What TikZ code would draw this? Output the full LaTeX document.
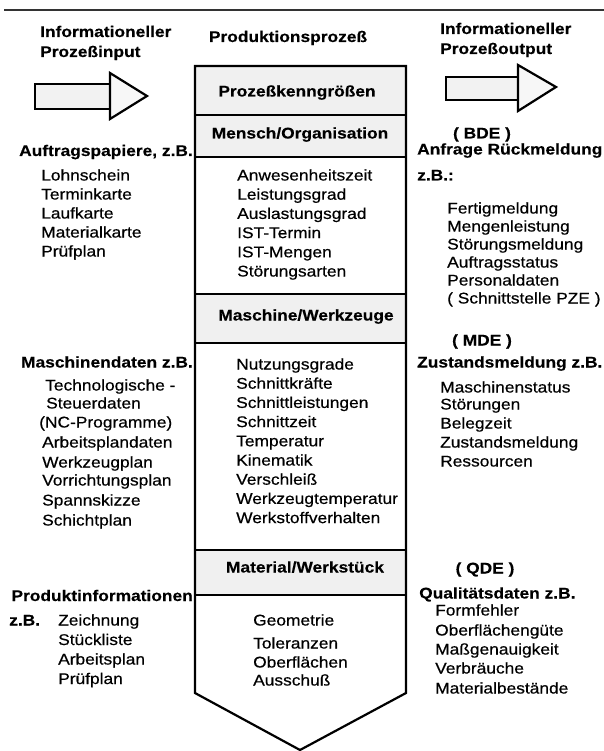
\documentclass[tikz,border=0pt]{standalone}
\usepackage{fontspec}
\setmainfont{Liberation Sans}[FakeStretch=1.12,
  UprightFeatures={FakeBold=0.5},BoldFeatures={FakeBold=0.3}]
\usepackage{tikz}

\begin{document}
\begin{tikzpicture}[x=1pt,y=-1pt,
 every node/.style={inner sep=0pt,font=\fontsize{15.5}{19}\selectfont},
 item/.style={anchor=base west},
 head/.style={anchor=base west,font=\fontsize{15.5}{19}\selectfont\bfseries},
 headr/.style={anchor=base east,font=\fontsize{15.5}{19}\selectfont\bfseries},
 title/.style={anchor=base,font=\fontsize{15.5}{19}\selectfont\bfseries},
 cell/.style={fill=black!6},
 frame/.style={line width=2.2pt,line join=miter},
 sep/.style={line width=1.8pt}
]
\useasboundingbox (0,0) rectangle (604,751);
\draw[line width=2.4pt,black!80] (4,10) -- (604,10);

% input / output arrows
\draw[frame,fill=black!5] (35,84) rectangle (110,109);
\draw[frame,fill=black!3] (110,73) -- (147,96) -- (110,119) -- cycle;
\draw[frame,fill=black!5] (446,77) rectangle (518,100);
\draw[frame,fill=black!3] (518,65) -- (556,87) -- (518,111) -- cycle;

\node[head] (inp1) at (40,37) {Informationeller};
\node[head] (inp2) at (40,57) {Prozeßinput};
\node[title] (prod) at (288,42) {Produktionsprozeß};
\node[head] (out1) at (440,34) {Informationeller};
\node[head] (out2) at (440,54) {Prozeßoutput};

% production column
\fill[cell] (195,66) rectangle (406,157);
\fill[cell] (195,294) rectangle (406,343);
\fill[cell] (195,550) rectangle (406,595);
\foreach \y in {115,157,294,343,550,595}
 \draw[sep] (195,\y) -- (406,\y);
\draw[frame] (195,66) -- (406,66) -- (406,693) -- (300,750) -- (195,693) -- cycle;

\node[title] (kenn) at (297,96.5) {Prozeßkenngrößen};
\node[title] (mensch) at (300,138.5) {Mensch/Organisation};
\node[title] (masch) at (306,320.5) {Maschine/Werkzeuge};
\node[title] (mat) at (305,572.5) {Material/Werkstück};

\foreach \t/\y [count=\i] in {Anwesenheitszeit/180.5,Leistungsgrad/199.7,
 Auslastungsgrad/218.9,IST-Termin/238.1,IST-Mengen/257.3,Störungsarten/276.5}
 \node[item] (mo\i) at (237,\y) {\t};
\foreach \t/\y [count=\i] in {Nutzungsgrade/369.5,Schnittkräfte/388.7,
 Schnittleistungen/407.9,Schnittzeit/427.1,Temperatur/446.3,Kinematik/465.5,
 Verschleiß/484.7,Werkzeugtemperatur/503.9,Werkstoffverhalten/523.1}
 \node[item] (mw\i) at (236,\y) {\t};
\foreach \t/\y [count=\i] in {Geometrie/625.5,Toleranzen/648.5,
 Oberflächen/667.5,Ausschuß/685.5}
 \node[item] (ws\i) at (253,\y) {\t};

% left: input data
\node[headr] (auf) at (193,156) {Auftragspapiere, z.B.};
\foreach \t/\y [count=\i] in {Lohnschein/180.5,Terminkarte/199.5,
 Laufkarte/218.5,Materialkarte/237.5,Prüfplan/256.5}
 \node[item] (auf\i) at (41,\y) {\t};

\node[headr] (mdat) at (193,367.5) {Maschinendaten z.B.};
\node[item] (md1) at (45,390.5) {Technologische -};
\node[item] (md2) at (46,408.5) {Steuerdaten};
\node[item] (md3) at (39,427.5) {(NC-Programme)};
\foreach \t/\y [count=\i from 4] in {Arbeitsplandaten/447.5,Werkzeugplan/467.5,
 Vorrichtungsplan/485.5,Spannskizze/505.5,Schichtplan/525.5}
 \node[item] (md\i) at (42,\y) {\t};

\node[headr] (pinf) at (193,601) {Produktinformationen};
\node[head] (zb) at (9,625.5) {z.B.};
\foreach \t/\y [count=\i] in {Zeichnung/625.5,Stückliste/645,
 Arbeitsplan/664.5,Prüfplan/684}
 \node[item] (pi\i) at (58,\y) {\t};

% right: output data
\node[title] (bde) at (482,138.5) {( BDE )};
\node[head] (bde1) at (417,154.5) {Anfrage Rückmeldung};
\node[head] (bde2) at (417,180.5) {z.B.:};
\foreach \t/\y [count=\i] in {Fertigmeldung/213.5,Mengenleistung/231.5,
 Störungsmeldung/249.5,Auftragsstatus/267.5,Personaldaten/285.5,
 ( Schnittstelle PZE )/303.5}
 \node[item] (rm\i) at (447,\y) {\t};

\node[title] (mde) at (482,345.5) {( MDE )};
\node[head] (mde1) at (417,367.5) {Zustandsmeldung z.B.};
\foreach \t/\y [count=\i] in {Maschinenstatus/392.5,Störungen/409.5,
 Belegzeit/428.5,Zustandsmeldung/447.5,Ressourcen/466.5}
 \node[item] (zm\i) at (440,\y) {\t};

\node[title] (qde) at (485,573.5) {( QDE )};
\node[head] (qde1) at (419,598.5) {Qualitätsdaten z.B.};
\foreach \t/\y [count=\i] in {Formfehler/615.5,Oberflächengüte/635.5,
 Maßgenauigkeit/654.5,Verbräuche/673.5,Materialbestände/693.5}
 \node[item] (qd\i) at (435,\y) {\t};
\end{tikzpicture}
\end{document}
